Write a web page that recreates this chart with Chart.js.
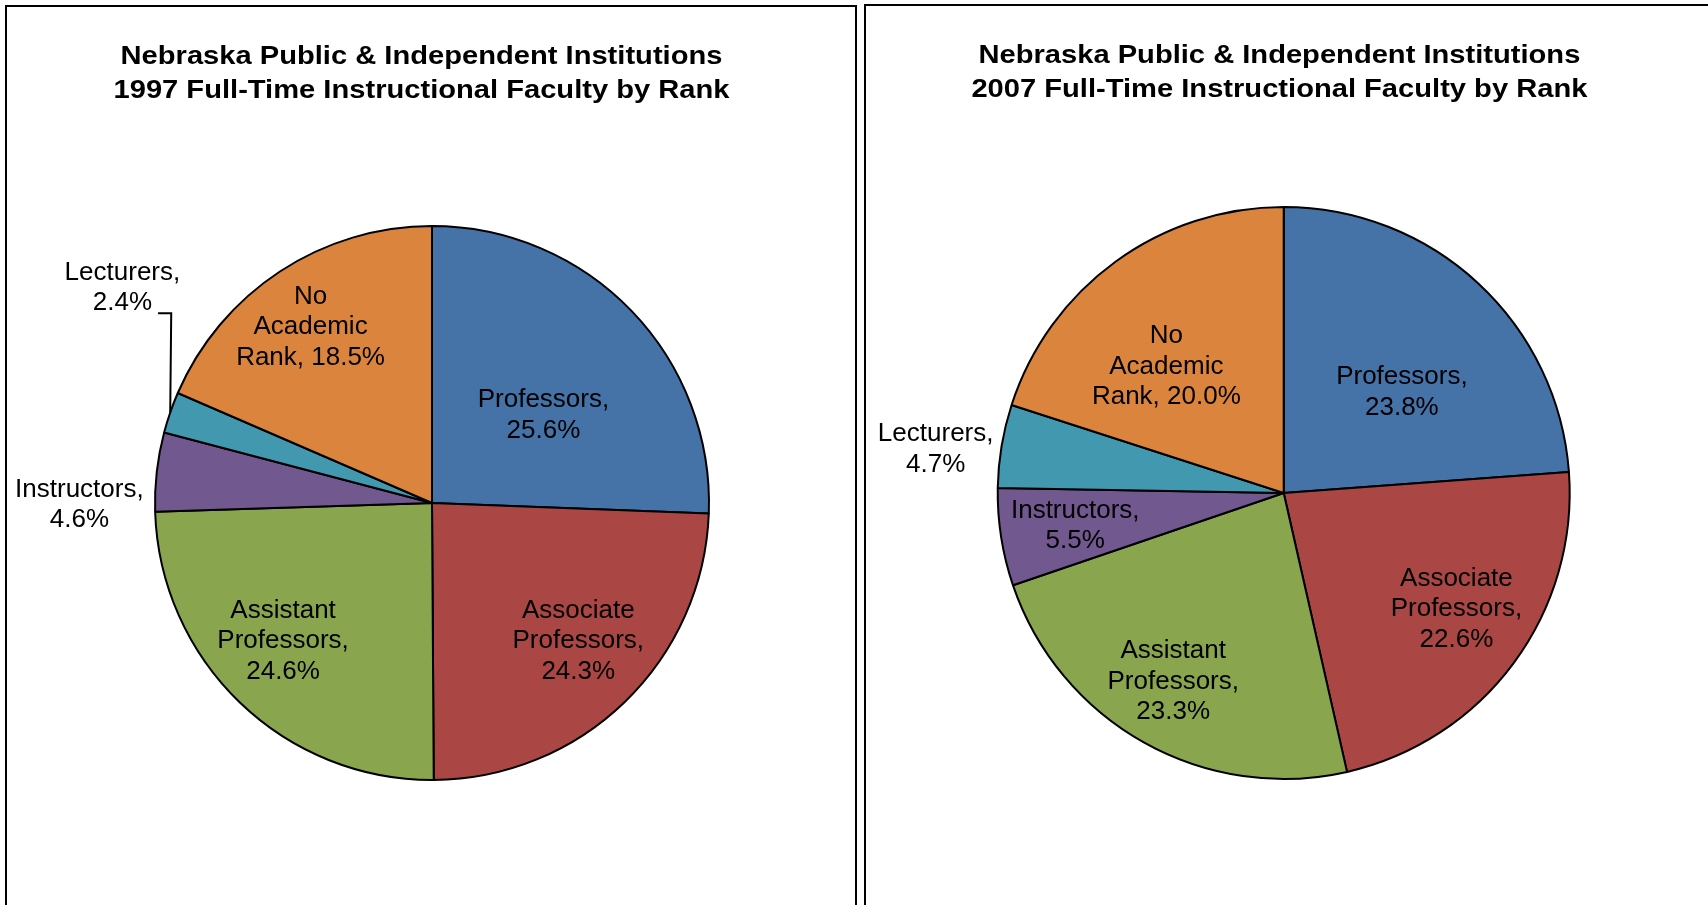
<!DOCTYPE html>
<html>
<head>
<meta charset="utf-8">
<script src="https://cdn.jsdelivr.net/npm/chart.js@4.4.0/dist/chart.umd.min.js"></script>
<style>
  html, body { margin: 0; padding: 0; background: #fff; overflow: hidden; width: 1708px; height: 905px; }
  .panel { position: absolute; border: 2px solid #000; }
  #p1 { left: 5px; top: 5px; width: 848px; height: 1000px; }
  #p2 { left: 864px; top: 4px; width: 900px; height: 1000px; }
  canvas { display: block; }
</style>
</head>
<body>
<div class="panel" id="p1"><canvas id="chart1997" width="848" height="898"></canvas></div>
<div class="panel" id="p2"><canvas id="chart2007" width="842" height="899"></canvas></div>
<script>
// Faculty by rank, percent of full-time instructional faculty
const ranks = ['Professors', 'Associate Professors', 'Assistant Professors', 'Instructors', 'Lecturers', 'No Academic Rank'];
const share1997 = [25.6, 24.3, 24.6, 4.6, 2.4, 18.5];
const share2007 = [23.8, 22.6, 23.3, 5.5, 4.7, 20.0];
const title1997 = ['Nebraska Public & Independent Institutions', '1997 Full-Time Instructional Faculty by Rank'];
const title2007 = ['Nebraska Public & Independent Institutions', '2007 Full-Time Instructional Faculty by Rank'];

const sliceColors = ['#4572A7', '#AA4643', '#89A54E', '#71588F', '#4198AF', '#DB843D'];
const FONT = "'Liberation Sans', Arial, sans-serif";

// split label text into lines no wider than maxW
function wrapText(ctx, text, maxW) {
    const words = text.split(' ');
    const lines = [];
    let cur = '';
    words.forEach(w => {
        const test = cur ? cur + ' ' + w : w;
        if (cur && ctx.measureText(test).width > maxW) {
            lines.push(cur);
            cur = w;
        } else {
            cur = test;
        }
    });
    if (cur) lines.push(cur);
    return lines;
}

// draws the title and Excel-style data labels
const pieText = {
    id: 'pieText',
    afterDatasetsDraw(chart, args, opts) {
        const ctx = chart.ctx;
        const meta = chart.getDatasetMeta(0);
        const values = chart.data.datasets[0].data;
        ctx.save();
        ctx.fillStyle = '#000';
        ctx.strokeStyle = '#000';
        ctx.textAlign = 'center';
        ctx.textBaseline = 'middle';

        // title (the original's bold face is a bit wider than Arial)
        ctx.font = 'bold 26px ' + FONT;
        opts.title.forEach((line, i) => {
            ctx.save();
            ctx.translate(opts.titleX, opts.titleY + i * 34);
            ctx.scale(1.12, 1);
            ctx.fillText(line, 0, 0);
            ctx.restore();
        });

        // data labels
        ctx.font = '26px ' + FONT;
        const lineH = 30.5;
        meta.data.forEach((arc, i) => {
            const p = arc.getProps(['x', 'y', 'startAngle', 'endAngle', 'outerRadius'], true);
            const place = opts.place[i];
            const mid = (p.startAngle + p.endAngle) / 2;
            const a = mid + place[0] * Math.PI / 180;
            const cx = p.x + Math.cos(a) * p.outerRadius * place[1];
            const cy = p.y + Math.sin(a) * p.outerRadius * place[1] + 1.5;
            const text = chart.data.labels[i] + ', ' + values[i].toFixed(1) + '%';
            const lines = wrapText(ctx, text, 151);
            const y0 = cy - (lines.length - 1) * lineH / 2;
            lines.forEach((line, j) => ctx.fillText(line, cx, y0 + j * lineH));

            if (place[2]) {
                // leader line from the label to the slice edge
                const last = lines[lines.length - 1];
                const sx = cx + ctx.measureText(last).width / 2 + 6;
                const sy = y0 + (lines.length - 1) * lineH + 10;
                const ex = p.x + Math.cos(mid) * p.outerRadius;
                const ey = p.y + Math.sin(mid) * p.outerRadius;
                ctx.lineWidth = 2;
                ctx.beginPath();
                ctx.moveTo(sx, sy);
                ctx.lineTo(ex + 1, sy);
                ctx.lineTo(ex, ey);
                ctx.stroke();
            }
        });
        ctx.restore();
    }
};

function makePie(id, values, title, radius, padding, titlePos, place) {
    return new Chart(document.getElementById(id), {
        type: 'pie',
        data: {
            labels: ranks,
            datasets: [{
                data: values,
                backgroundColor: sliceColors,
                borderColor: '#000',
                borderWidth: 2
            }]
        },
        options: {
            responsive: false,
            animation: false,
            radius: radius,
            layout: { padding: padding },
            plugins: {
                legend: { display: false },
                title: { display: false },
                tooltip: { enabled: false },
                pieText: {
                    title: title,
                    titleX: titlePos[0],
                    titleY: titlePos[1],
                    place: place
                }
            }
        },
        plugins: [pieText]
    });
}

// label placement: [angle shift in degrees, distance as fraction of radius, leader line]
makePie('chart1997', share1997, title1997, 277,
    { left: 2, right: 0, top: 94, bottom: 0 }, [414.5, 49.5],
    [[5.3, 0.515], [-2.9, 0.722], [3.6, 0.729], [-6.5, 1.273], [15.9, 1.364, true], [-1.1, 0.776]]);

makePie('chart2007', share2007, title2007, 286,
    { left: 0, right: 6.6, top: 75, bottom: 0 }, [413.4, 49.4],
    [[6.3, 0.546], [-2.9, 0.725], [1.4, 0.759], [0.4, 0.737], [-2.1, 1.227], [-6.5, 0.607]]);
</script>
</body>
</html>
